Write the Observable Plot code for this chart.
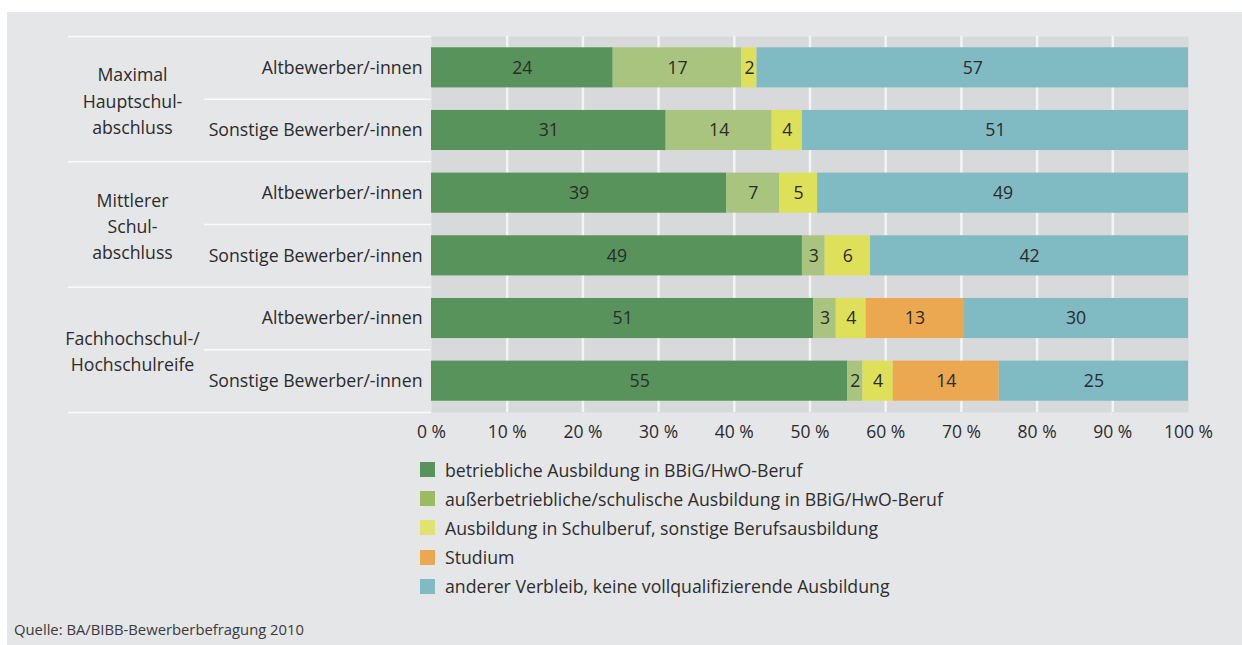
<!DOCTYPE html>
<html><head><meta charset="utf-8">
<script src="https://cdn.jsdelivr.net/npm/d3@7"></script>
<script src="https://cdn.jsdelivr.net/npm/@observablehq/plot@0.6"></script>
<style>
body{margin:0;background:#fff;font-family:"Open Sans",sans-serif;}
#panel{position:absolute;left:7px;top:12px;width:1235px;height:633px;background:#e5e6e8;overflow:hidden;}
#chart{position:absolute;left:0;top:0;}
#legend{position:absolute;left:413px;top:443px;}
.item{display:flex;align-items:center;height:29.2px;font-size:17.7px;color:#2d2d2d;white-space:nowrap;}
.sw{width:15px;height:15px;margin-right:10px;flex:none;}
#source{position:absolute;left:7px;top:607px;font-size:14.8px;color:#3a3a3a;line-height:20px;}
</style></head>
<body><div id="panel"><div id="chart"></div><div id="legend"></div><div id="source">Quelle: BA/BIBB-Bewerberbefragung 2010</div></div>
<script>
const groups = ["Maximal\nHauptschul-\nabschluss", "Mittlerer\nSchul-\nabschluss", "Fachhochschul-/\nHochschulreife"];
const subgroups = ["Altbewerber/-innen", "Sonstige Bewerber/-innen"];
const categories = [
  "betriebliche Ausbildung in BBiG/HwO-Beruf",
  "außerbetriebliche/schulische Ausbildung in BBiG/HwO-Beruf",
  "Ausbildung in Schulberuf, sonstige Berufsausbildung",
  "Studium",
  "anderer Verbleib, keine vollqualifizierende Ausbildung"
];
const colors = ["#58935c", "#a9c47e", "#dfe05a", "#eca851", "#80bac3"];
const legendColors = ["#58935c", "#9bbb5f", "#e1e270", "#eca851", "#80bac3"];
// rows: group0/Alt, group0/Sonst, group1/Alt, group1/Sonst, group2/Alt, group2/Sonst
const betrieblich       = [24, 31, 39, 49, 51, 55];
const ausserbetrieblich = [17, 14, 7, 3, 3, 2];
const schulberuf        = [2, 4, 5, 6, 4, 4];
const studium           = [0, 0, 0, 0, 13, 14];
const anderer           = [57, 51, 49, 42, 30, 25];
const xTicks = [0, 0.1, 0.2, 0.3, 0.4, 0.5, 0.6, 0.7, 0.8, 0.9, 1];
const gridTicks = [0.1, 0.2, 0.3, 0.4, 0.5, 0.6, 0.7, 0.8, 0.9];

const series = [betrieblich, ausserbetrieblich, schulberuf, studium, anderer];
const rows = [];
groups.forEach((g, gi) => subgroups.forEach((s, si) => rows.push({id: String(gi * 2 + si), group: g, sub: s, si})));
const data = [];
rows.forEach((r, i) => series.forEach((vals, k) => {
  if (vals[i] > 0) data.push({row: r.id, cat: categories[k], value: vals[i]});
}));

const halfStep = 31.33;
const fs = 17.7;
const chart = Plot.plot({
  width: 1235,
  height: 440,
  marginLeft: 424,
  marginRight: 54,
  marginTop: 24,
  marginBottom: 40,
  style: {fontSize: fs + "px", fontFamily: "'Open Sans', sans-serif", color: "#2b2b2b", background: "transparent", overflow: "visible"},
  x: {domain: [0, 1], axis: null, label: null},
  y: {domain: rows.map(r => r.id), paddingInner: 0.36, paddingOuter: 0.18, round: false, axis: null},
  color: {domain: categories, range: colors},
  marks: [
    Plot.frame({fill: "#d8d9db", stroke: "none"}),
    Plot.gridX(gridTicks, {stroke: "#f4f4f5", strokeOpacity: 1, strokeWidth: 2.5}),
    Plot.axisX(xTicks, {tickSize: 0, tickPadding: 13, label: null, tickFormat: d => `${Math.round(d * 100)} %`, fontSize: 17.5}),
    Plot.barX(data, Plot.stackX({x: "value", y: "row", fill: "cat", offset: "normalize"})),
    Plot.text(data, Plot.stackX({x: "value", y: "row", z: "cat", text: d => String(d.value), offset: "normalize", fontSize: fs})),
    Plot.text(rows, {y: "id", text: "sub", frameAnchor: "left", textAnchor: "end", dx: -9, fontSize: fs}),
    Plot.text(rows.filter(r => r.si === 0), {y: "id", text: "group", frameAnchor: "left", textAnchor: "middle", dx: -299, dy: halfStep, lineHeight: 1.48, fontSize: fs}),
    Plot.ruleY(rows.filter(r => r.id === "0"), {y: "id", dy: -halfStep, stroke: "#fafafa", strokeWidth: 1.5, insetLeft: -363, insetRight: 757}),
    Plot.ruleY(rows.filter(r => r.si === 1), {y: "id", dy: halfStep, stroke: "#fafafa", strokeWidth: 1.5, insetLeft: -363, insetRight: 757}),
    Plot.ruleY(rows.filter(r => r.si === 0), {y: "id", dy: halfStep, stroke: "#fafafa", strokeWidth: 1.5, insetLeft: -227, insetRight: 757})
  ]
});
document.getElementById("chart").appendChild(chart);

const legend = document.getElementById("legend");
categories.forEach((c, k) => {
  const item = document.createElement("div");
  item.className = "item";
  const sw = document.createElement("span");
  sw.className = "sw";
  sw.style.background = legendColors[k];
  const label = document.createElement("span");
  label.textContent = c;
  item.appendChild(sw);
  item.appendChild(label);
  legend.appendChild(item);
});
</script>
</body></html>
